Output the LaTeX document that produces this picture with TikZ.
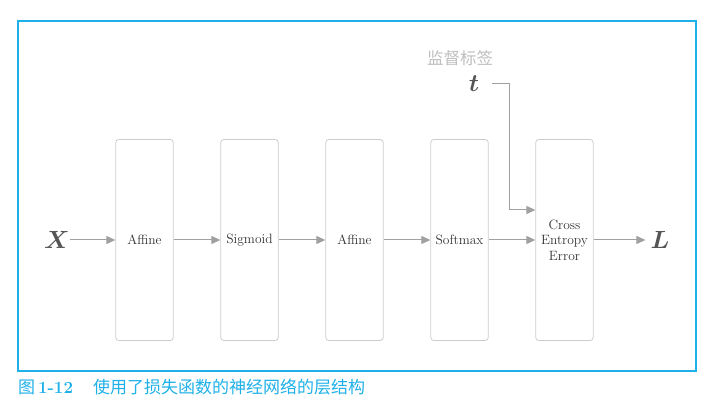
\documentclass[tikz,border=0pt]{standalone}
\usepackage{amsmath}
\usepackage{fontspec}
\newfontfamily\cjk{Noto Sans CJK SC}
\usetikzlibrary{positioning, arrows.meta, calc}
\definecolor{figblue}{RGB}{30,176,232}
\definecolor{linegray}{RGB}{160,160,160}
\definecolor{boxgray}{RGB}{205,205,205}
\definecolor{vargray}{RGB}{85,85,85}
\definecolor{notegray}{RGB}{190,190,190}
\tikzset{
  >={Triangle[length=9pt, width=8pt]},
  layer/.style={draw=boxgray, rounded corners=3pt, line width=0.8pt, minimum width=57.5pt, minimum height=201pt, inner sep=0pt, align=center, text=black!80, font=\fontsize{13.5}{15.5}\selectfont},
  flow/.style={->, draw=linegray, line width=1pt},
  var/.style={text=vargray, inner sep=0pt, font=\fontsize{28}{28}\selectfont},
}

\begin{document}
\begin{tikzpicture}[x=1pt, y=-1pt, node distance=46.7pt]
  \useasboundingbox (0,0) rectangle (709,411);
  \draw[figblue, line width=1.3pt] (18,21) rectangle (696,371);

  % layers
  \node[layer] (aff1) at (144.5,240) {Affine};
  \node[layer, right=of aff1] (sig) {Sigmoid};
  \node[layer, right=of sig] (aff2) {Affine};
  \node[layer, right=of aff2] (soft) {Softmax};
  \node[layer, right=of soft] (loss) {Cross\\Entropy\\Error};

  % input, label, output
  \node[var] (X) at (57,240) {$\boldsymbol{X}$};
  \node[var] (t) at (474,84) {$\boldsymbol{t}$};
  \node[var] (L) at (660,240) {$\boldsymbol{L}$};
  \node[text=notegray, font=\cjk\fontsize{16.5}{17}\selectfont] (tlabel) at (460,58) {监督标签};

  \draw[flow] (X) -- (aff1);
  \draw[flow] (aff1) -- (sig);
  \draw[flow] (sig) -- (aff2);
  \draw[flow] (aff2) -- (soft);
  \draw[flow] (soft) -- (loss);
  \draw[flow, shorten >=5pt] (loss) -- (L);
  \coordinate (bend) at (509,210);
  \draw[flow] ([xshift=13pt]t.east) -| (bend) -- (bend -| loss.west);

  % caption
  \node[anchor=west, inner sep=0pt, text=figblue, font=\fontsize{17}{17}\selectfont] (capnum) at (18,387) {{\cjk 图}\,\textbf{1-12}};
  \node[anchor=west, inner sep=0pt, text=figblue, font=\cjk\fontsize{17}{17}\selectfont] (captext) at (93,387) {使用了损失函数的神经网络的层结构};
\end{tikzpicture}
\end{document}
